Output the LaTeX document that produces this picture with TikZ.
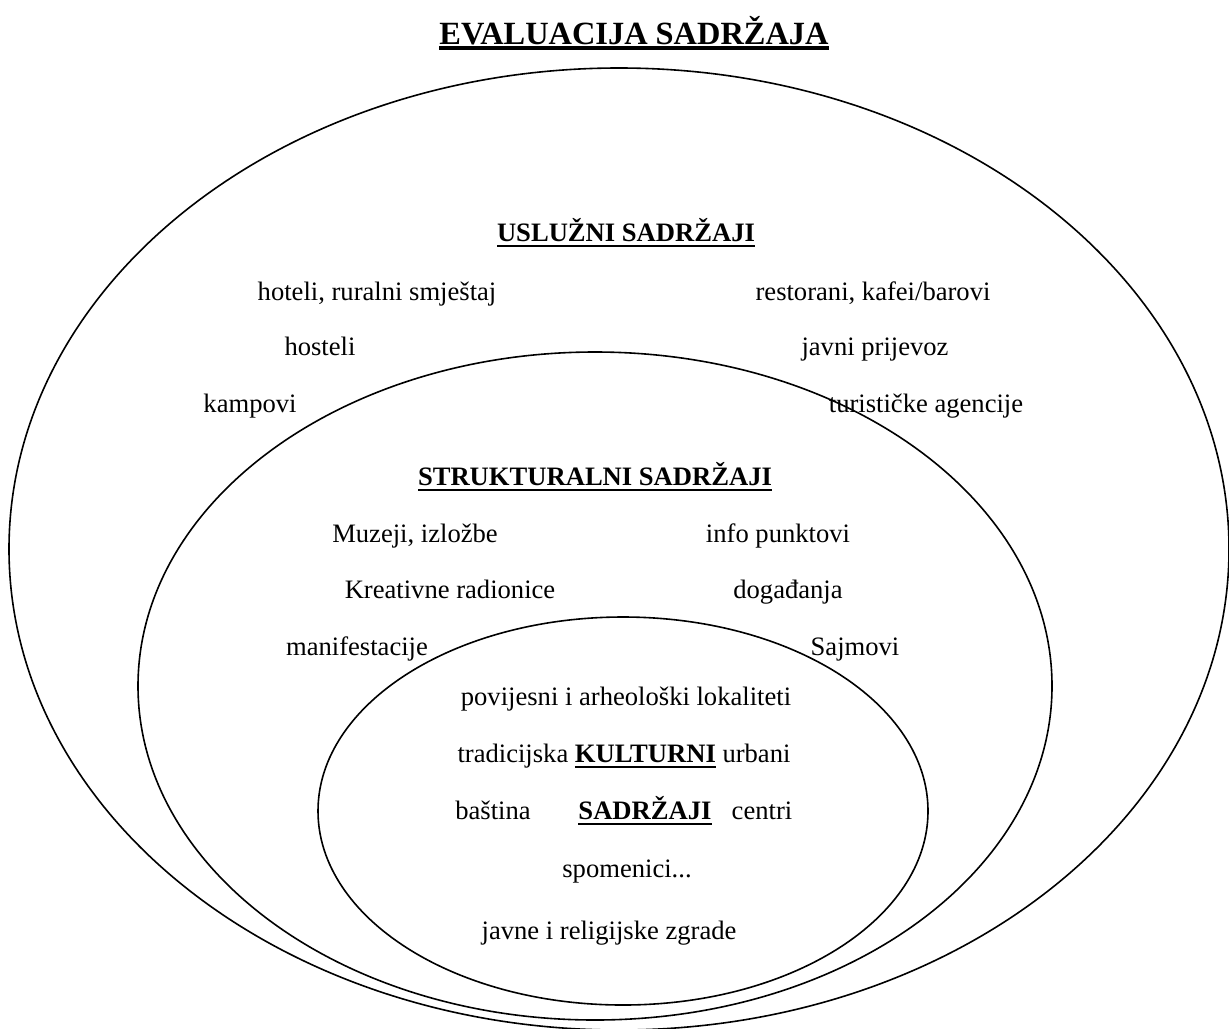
\documentclass[tikz,border=0pt]{standalone}
\usepackage{fontspec}
\setmainfont{Liberation Serif}
\usepackage{tikz}
\usetikzlibrary{positioning,shapes.geometric}
\newcommand{\ulrule}[2][1.3pt]{\setbox0\hbox{#2}\leavevmode\rlap{\raisebox{-3.2pt}{\rule{\wd0}{#1}}}\box0}

\begin{document}
\begin{tikzpicture}[
    x=0.5pt, y=-0.5pt,
    ringnode/.style={ellipse, draw=black, line width=0.8pt, inner sep=0pt},
    itemtext/.style={font=\fontsize{13.3}{16}\selectfont, inner sep=0pt, anchor=base},
    headtext/.style={font=\fontsize{13.3}{16}\selectfont\bfseries, inner sep=0pt, anchor=base}
    ]
        \useasboundingbox (0,0) rectangle (1229,1028);

        %Rings
        \node[ringnode, minimum width=610pt, minimum height=481pt]
            (usluzni)   at (619,549)    {};
        \node[ringnode, minimum width=457pt, minimum height=334pt]
            (struktura) at (595,686)    {};
        \node[ringnode, minimum width=305pt, minimum height=194pt]
            (kultura)   at (623,811)    {};

        %Title
        \node[headtext, font=\fontsize{16.2}{19}\selectfont\bfseries]
            (naslov)    at (634,44)     {\ulrule[2pt]{EVALUACIJA SADRŽAJA}};

        %Usluzni sadrzaji
        \node[headtext] (uHead)   at (626,241)  {\ulrule{USLUŽNI SADRŽAJI}};
        \node[itemtext] (uHotel)  at (377,300)  {hoteli, ruralni smještaj};
        \node[itemtext] (uRest)   at (873,300)  {restorani, kafei/barovi};
        \node[itemtext] (uHost)   at (320,355)  {hosteli};
        \node[itemtext] (uPrij)   at (875,355)  {javni prijevoz};
        \node[itemtext] (uKamp)   at (250,412)  {kampovi};
        \node[itemtext] (uAgen)   at (926,412)  {turističke agencije};

        %Strukturalni sadrzaji
        \node[headtext] (sHead)   at (595,485)  {\ulrule{STRUKTURALNI SADRŽAJI}};
        \node[itemtext] (sMuz)    at (415,542)  {Muzeji, izložbe};
        \node[itemtext] (sInfo)   at (778,542)  {info punktovi};
        \node[itemtext] (sKreat)  at (450,598)  {Kreativne radionice};
        \node[itemtext] (sDog)    at (788,598)  {događanja};
        \node[itemtext] (sManif)  at (357,655)  {manifestacije};
        \node[itemtext] (sSajm)   at (855,655)  {Sajmovi};

        %Kulturni sadrzaji
        \node[itemtext] (kPovij)  at (626,705)  {povijesni i arheološki lokaliteti};
        \node[itemtext] (kKult)   at (624,762)  {tradicijska \textbf{\ulrule{KULTURNI}} urbani};
        \node[headtext] (kHead)   at (645,819)  {\ulrule{SADRŽAJI}};
        \node[itemtext] (kBast)   at (493,819)  {baština};
        \node[itemtext] (kCentri) at (762,819)  {centri};
        \node[itemtext] (kSpom)   at (627,877)  {spomenici...};
        \node[itemtext] (kZgrade) at (609,939)  {javne i religijske zgrade};
    \end{tikzpicture}
\end{document}
